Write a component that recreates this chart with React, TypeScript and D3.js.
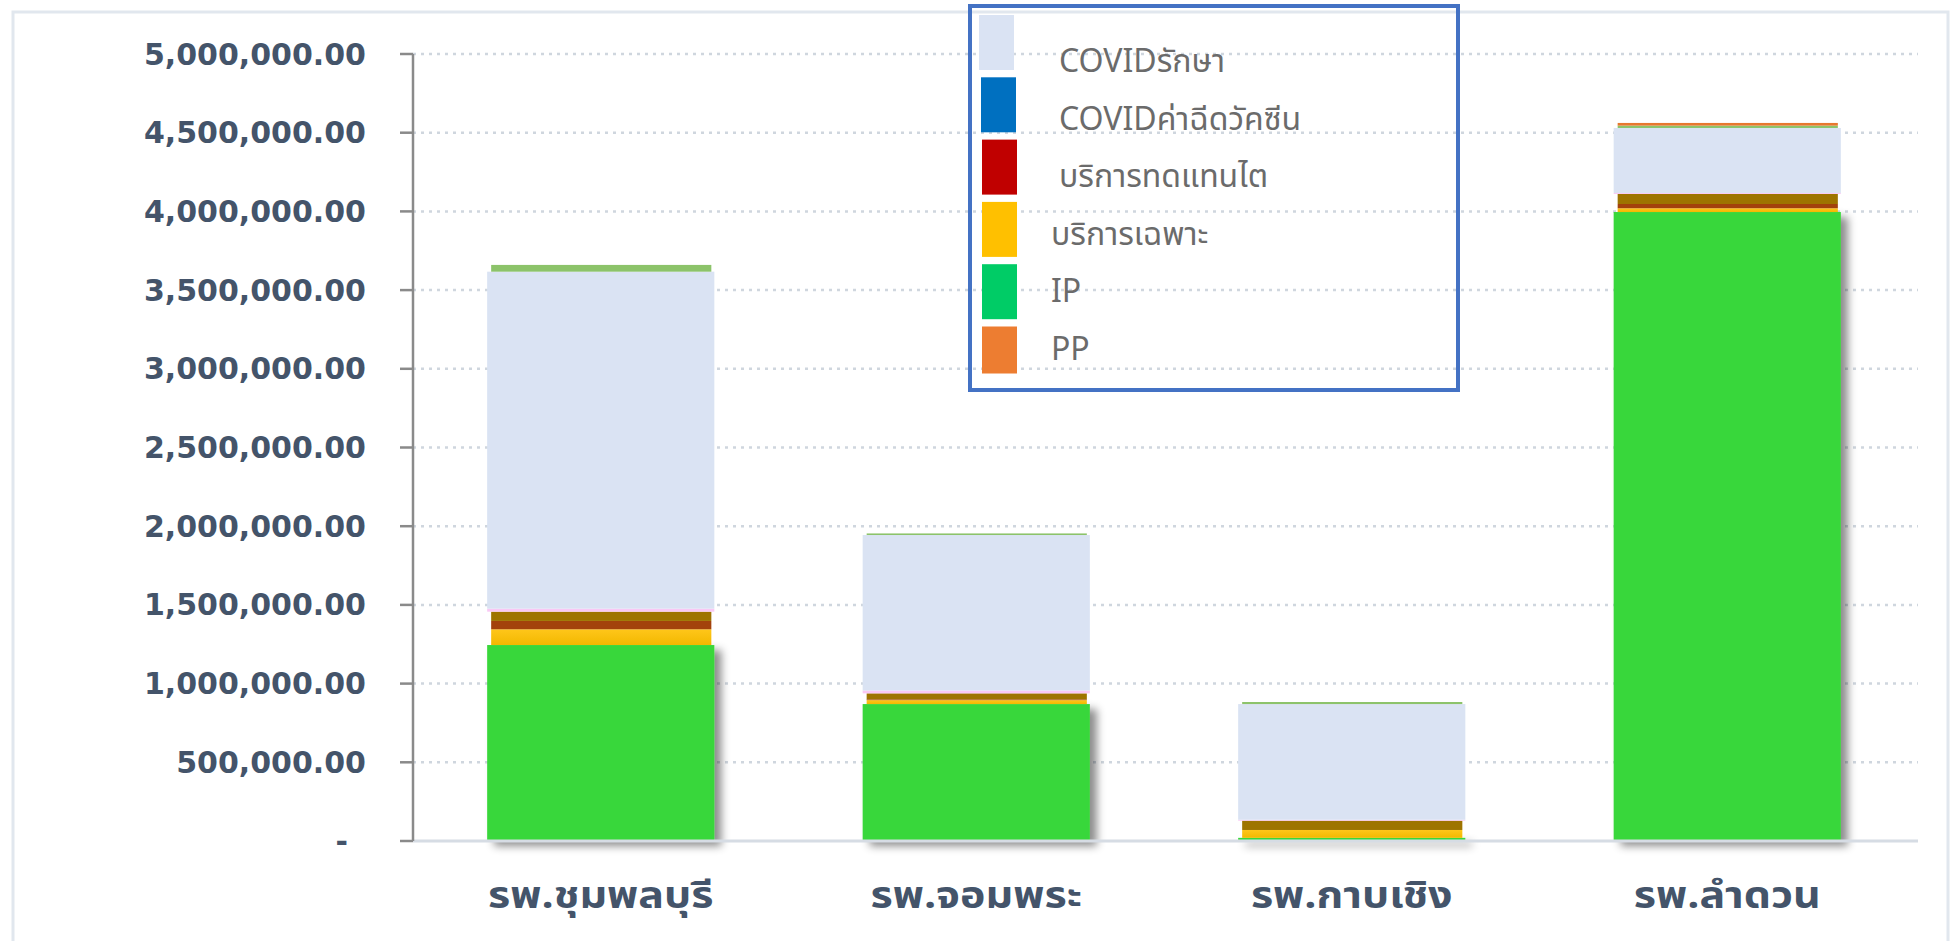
import React from 'react';
import * as d3 from 'd3';

const categories = ['รพ.ชุมพลบุรี', 'รพ.จอมพระ', 'รพ.กาบเชิง', 'รพ.ลำดวน'];

// stacked series, bottom to top (values in baht)
const ipValues = [1245000, 870000, 20000, 3996000];
const specificValues = [100000, 25000, 50000, 24000];
const kidneyValues = [53000, 5000, 0, 27000];
const otherValues = [59000, 38000, 59000, 64000];
const pinkValues = [19000, 18000, 6000, 6000];
const covidCareValues = [2141000, 988000, 735000, 413000];
const topGreenValues = [43000, 10000, 13000, 15000];
const ppValues = [0, 0, 0, 17000];

const seriesKeys = ['ip', 'specific', 'kidney', 'other', 'pink', 'covidCare', 'topGreen', 'pp'];
const seriesColors = ['#39d73a', '#ffc20e', '#a3420c', '#9e7400', '#f9c9f5', '#dae3f3', '#8cc36a', '#e8782e'];
const seriesWide = [true, false, false, false, true, true, false, false];

const yTicks = [0, 500000, 1000000, 1500000, 2000000, 2500000, 3000000, 3500000, 4000000, 4500000, 5000000];

const legendLabels = ['COVIDรักษา', 'COVIDค่าฉีดวัคซีน', 'บริการทดแทนไต', 'บริการเฉพาะ', 'IP', 'PP'];
const legendColors = ['#dae3f3', '#0070c0', '#c00000', '#ffc000', '#00cc66', '#ed7d31'];

const W = 1954;
const H = 941;

export default function App() {
  const x = d3.scaleBand<string>().domain(categories).range([413, 1915]).paddingInner(0.395).paddingOuter(0.1975);
  const y = d3.scaleLinear().domain([0, 5000000]).range([841, 54]);

  const table = categories.map((c, i) => ({
    cat: c,
    ip: ipValues[i],
    specific: specificValues[i],
    kidney: kidneyValues[i],
    other: otherValues[i],
    pink: pinkValues[i],
    covidCare: covidCareValues[i],
    topGreen: topGreenValues[i],
    pp: ppValues[i],
  }));
  const stacked = d3.stack<any>().keys(seriesKeys)(table);
  const fmt = d3.format(',.2f');
  const bw = x.bandwidth();

  return (
    <svg width={W} height={H} style={{ position: 'absolute', left: 0, top: 0, background: '#fff' }}>
      <defs>
        <filter id="shadow" x="-10%" y="-10%" width="130%" height="130%">
          <feDropShadow dx="7" dy="5" stdDeviation="4" floodColor="#000" floodOpacity="0.45" />
        </filter>
        <linearGradient id="yellowGrad" x1="0" x2="0" y1="0" y2="1">
          <stop offset="0" stopColor="#ffc61a" />
          <stop offset="1" stopColor="#f2b800" />
        </linearGradient>
      </defs>
      <rect x={13} y={12} width={1935} height={945} fill="#fff" stroke="#e1e7ee" strokeWidth={3} />

      {/* gridlines */}
      {yTicks.slice(1).map((t) => (
        <line key={t} x1={413} x2={1918} y1={y(t)} y2={y(t)} stroke="#cfd6de" strokeWidth={2.5} strokeDasharray="3 5" />
      ))}

      {/* bars */}
      {stacked.map((s, si) => (
        <g key={s.key} filter={si === 0 ? 'url(#shadow)' : undefined}>
          {s.map((d, i) => {
            const h = y(d[0]) - y(d[1]);
            if (h <= 0) return null;
            const x0 = x(categories[i])!;
            const inset = seriesWide[si] ? 0 : 4;
            const insetR = seriesWide[si] ? 0 : 3;
            return (
              <rect
                key={i}
                x={x0 + inset}
                y={y(d[1])}
                width={bw - inset - insetR}
                height={h}
                fill={si === 1 ? 'url(#yellowGrad)' : seriesColors[si]}
              />
            );
          })}
        </g>
      ))}

      {/* x axis */}
      <line x1={413} x2={1918} y1={841} y2={841} stroke="#d6dce4" strokeWidth={3} />
      {/* y axis */}
      <line x1={413} x2={413} y1={y(5000000)} y2={841} stroke="#8a8a8a" strokeWidth={2.5} />
      {yTicks.map((t) => (
        <g key={t}>
          <line x1={400} x2={413} y1={y(t)} y2={y(t)} stroke="#8a8a8a" strokeWidth={2.5} />
          <text
            x={t === 0 ? 348 : 366}
            y={y(t) + 10.5}
            textAnchor="end"
            fontFamily="'DejaVu Sans', Verdana, sans-serif"
            fontWeight="bold"
            fontSize={30}
            fill="#44546a"
          >
            {t === 0 ? '-' : fmt(t)}
          </text>
        </g>
      ))}

      {/* x labels */}
      {categories.map((c) => (
        <text
          key={c}
          transform={`translate(${x(c)! + bw / 2},908) scale(1.16,1)`}
          textAnchor="middle"
          fontFamily="Tahoma, 'Noto Sans Thai', 'Noto Sans', sans-serif"
          fontWeight="bold"
          fontSize={37}
          fill="#44546a"
        >
          {c}
        </text>
      ))}

      {/* legend */}
      <rect x={970} y={6} width={488} height={384} fill="none" stroke="#4472c4" strokeWidth={4} />
      {legendLabels.map((l, i) => {
        const sy = 15 + i * 62.3;
        const sx = i === 0 ? 979 : i === 1 ? 981 : 982;
        const tx = i < 3 ? 1059 : 1051;
        return (
          <g key={l}>
            <rect x={sx} y={sy} width={35} height={i === 5 ? 47 : 55} fill={legendColors[i]} />
            <text
              x={tx}
              y={72 + i * 57.6}
              fontFamily="'Noto Sans', 'Noto Sans Thai', sans-serif"
              fontSize={32}
              fill="#6b6b6b"
            >
              {l}
            </text>
          </g>
        );
      })}
    </svg>
  );
}
